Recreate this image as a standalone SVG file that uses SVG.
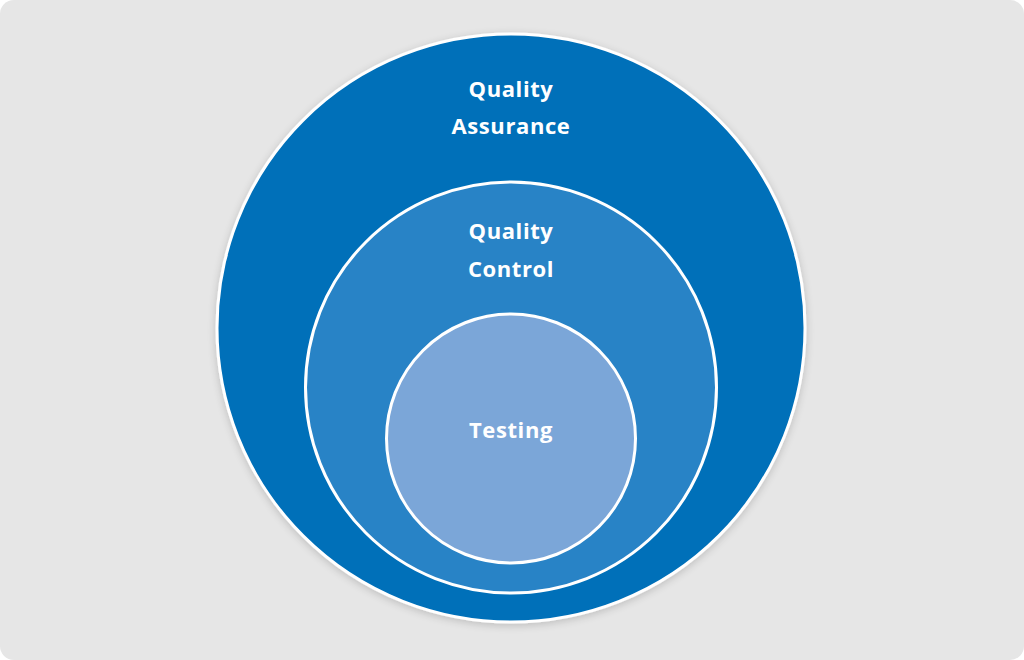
<svg xmlns="http://www.w3.org/2000/svg" width="1024" height="660" viewBox="0 0 1024 660">
<defs>
<filter id="sh" x="-10%" y="-10%" width="120%" height="120%">
<feGaussianBlur in="SourceAlpha" stdDeviation="4"/>
<feOffset dx="0" dy="2"/>
<feComponentTransfer><feFuncA type="linear" slope="0.18"/></feComponentTransfer>
<feMerge><feMergeNode/><feMergeNode in="SourceGraphic"/></feMerge>
</filter>
</defs>
<style>
.ring{stroke:#ffffff;stroke-width:3}
.lbl{font-family:"Open Sans","Liberation Sans",sans-serif;font-weight:700;font-size:22px;letter-spacing:0.6px;fill:#ffffff;text-anchor:middle}
</style>
<rect x="0" y="0" width="1024" height="660" fill="#ffffff"/>
<rect x="0" y="0" width="1024" height="660" rx="14" fill="#e6e6e6"/>
<g id="qa">
<circle class="ring" cx="511" cy="328" r="294" fill="#0070b9" filter="url(#sh)"/>
<text class="lbl" x="511" y="97">Quality</text>
<text class="lbl" x="511" y="134">Assurance</text>
</g>
<g id="qc">
<circle class="ring" cx="511" cy="387.5" r="205.5" fill="#2883c6"/>
<text class="lbl" x="511" y="239">Quality</text>
<text class="lbl" x="511" y="277">Control</text>
</g>
<g id="testing">
<circle class="ring" cx="511" cy="438.5" r="124.5" fill="#7ba6d8"/>
<text class="lbl" x="511" y="438">Testing</text>
</g>
<g id="connectors"/>
</svg>
